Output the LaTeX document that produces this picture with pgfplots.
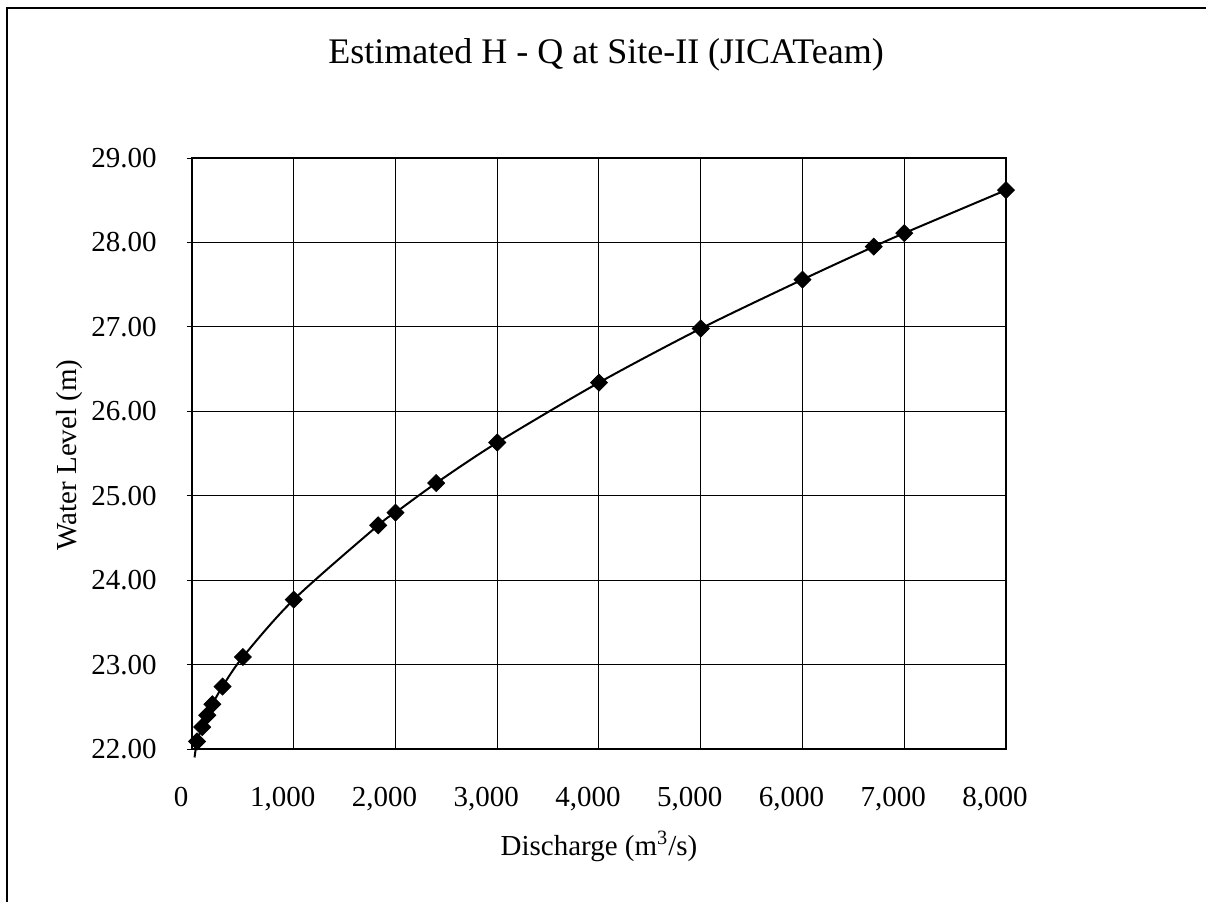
\documentclass[border=0pt]{standalone}
\usepackage{fontspec}
\setmainfont{Liberation Serif}
\usepackage{pgfplots}
\pgfplotsset{compat=1.18}
\begin{document}
\begin{tikzpicture}
\useasboundingbox (-96bp,-76.5bp) rectangle (507bp,374.5bp);
\fill[white] (-96bp,-76.5bp) rectangle (507bp,374.5bp);
\draw[line width=0.6bp] (-92.5bp,-80bp) -- (-92.5bp,370.5bp) -- (510bp,370.5bp);
\begin{axis}[
  at={(0,0)}, anchor=south west, scale only axis,
  width=407bp, height=295.5bp,
  xmin=0, xmax=8000, ymin=22, ymax=29,
  xtick={0,1000,2000,3000,4000,5000,6000,7000,8000},
  ytick={22,23,24,25,26,27,28,29},
  xticklabels={0,{1,000},{2,000},{3,000},{4,000},{5,000},{6,000},{7,000},{8,000}},
  yticklabels={22.00,23.00,24.00,25.00,26.00,27.00,28.00,29.00},
  grid=major,
  major grid style={black, line width=0.5bp},
  axis line style={black, line width=1bp},
  tick style={black, line width=0.5bp},
  xtick style={draw=none},
  ytick pos=left, tick align=outside, major tick length=2.5bp,
  ticklabel style={font=\fontsize{14.5bp}{17bp}\selectfont, inner sep=0pt},
  xticklabel style={anchor=base, yshift=-26bp, xshift=-5.5bp},
  yticklabel style={anchor=east, xshift=-15bp},
  title={Estimated H - Q at Site-II (JICATeam)},
  title style={font=\fontsize{18bp}{21bp}\selectfont, at={(axis description cs:0.5086,1.1404)}, anchor=base, inner sep=0pt},
  xlabel={Discharge (m\textsuperscript{3}/s)},
  xlabel style={font=\fontsize{14.5bp}{17bp}\selectfont, at={(axis description cs:0.5,-0.1794)}, anchor=base, inner sep=0pt},
  ylabel={Water Level (m)},
  ylabel style={font=\fontsize{14.5bp}{17bp}\selectfont, at={(axis description cs:-0.1413,0.4975)}, anchor=base, rotate=0, inner sep=0pt},
  clip=false,
  axis on top=false,
]
\addplot[black, line width=1bp, smooth, tension=0.5, no marks] coordinates {
  (25,21.90) (50,22.09) (100,22.26) (150,22.40) (200,22.53) (300,22.74)
  (500,23.09) (1000,23.77) (1830,24.65) (2000,24.80) (2400,25.15)
  (3000,25.63) (4000,26.34) (5000,26.98) (6000,27.56) (6700,27.95)
  (7000,28.11) (8000,28.62)
};
\addplot[only marks, mark=square*, mark size=3bp, mark options={rotate=45, black, fill=black}] coordinates {
  (50,22.09) (100,22.26) (150,22.40) (200,22.53) (300,22.74)
  (500,23.09) (1000,23.77) (1830,24.65) (2000,24.80) (2400,25.15)
  (3000,25.63) (4000,26.34) (5000,26.98) (6000,27.56) (6700,27.95)
  (7000,28.11) (8000,28.62)
};
\end{axis}
\end{tikzpicture}
\end{document}
